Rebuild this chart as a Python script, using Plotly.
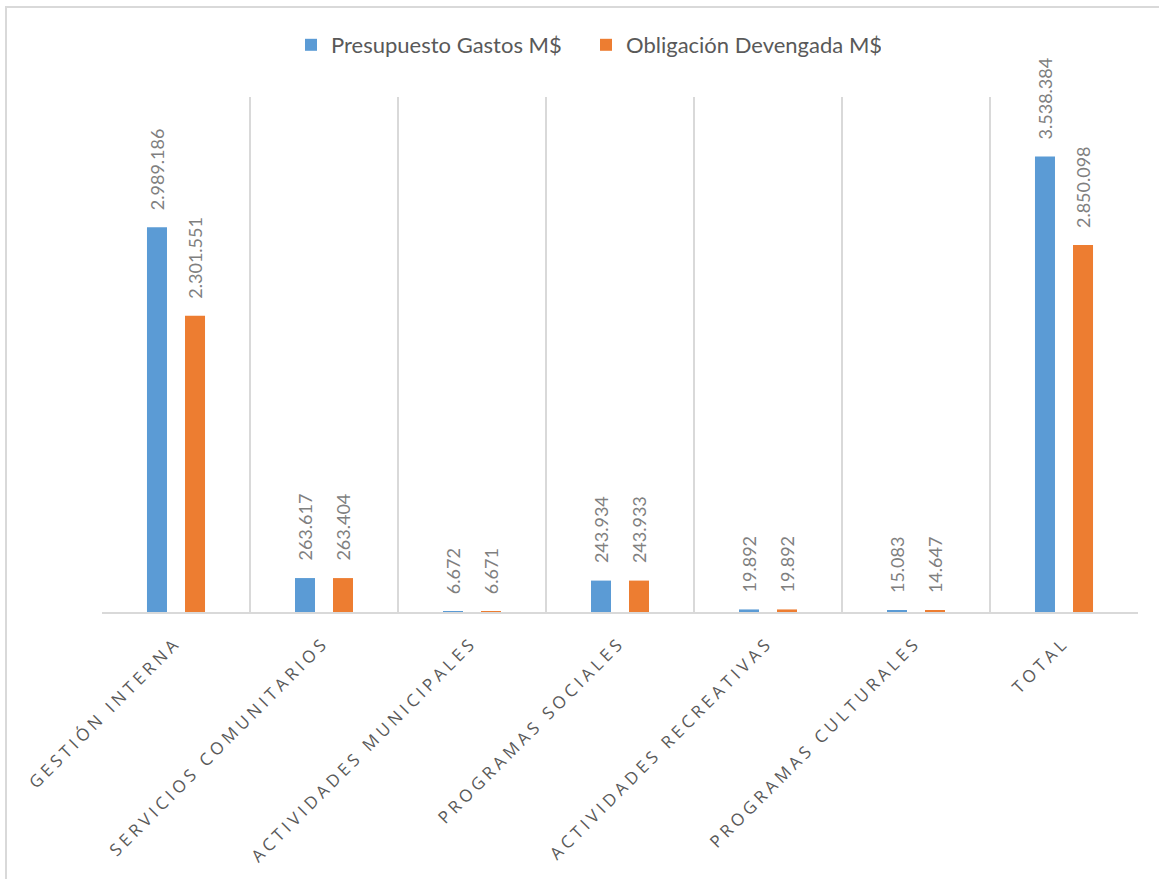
import plotly.graph_objects as go

categories = ["GESTIÓN INTERNA", "SERVICIOS COMUNITARIOS", "ACTIVIDADES MUNICIPALES",
              "PROGRAMAS SOCIALES", "ACTIVIDADES RECREATIVAS", "PROGRAMAS CULTURALES", "TOTAL"]
presupuesto = [2989186, 263617, 6672, 243934, 19892, 15083, 3538384]
obligacion = [2301551, 263404, 6671, 243933, 19892, 14647, 2850098]
series_names = ["Presupuesto Gastos M$", "Obligación Devengada M$"]
colors = ["#5B9BD5", "#ED7D31"]


def fmt(v):
    return f"{v:,}".replace(",", ".")


fig = go.Figure()
for name, vals, col in zip(series_names, [presupuesto, obligacion], colors):
    fig.add_trace(go.Bar(x=categories, y=vals, name=name, marker_color=col,
                         marker_line_width=0))

annotations = []
for vals, shift in [(presupuesto, -19), (obligacion, 19)]:
    for c, v in zip(categories, vals):
        annotations.append(dict(x=c, y=v, xref="x", yref="y", text=fmt(v), showarrow=False,
                                textangle=-90, xanchor="center", yanchor="bottom",
                                xshift=shift, yshift=15,
                                font=dict(family="Lato", size=18, color="#7F7F7F")))

W, H = 1159, 879
L, R, T, B = 102, 21, 97, 267
pw, ph = W - L - R, H - T - B

fig.update_layout(
    width=W, height=H,
    margin=dict(l=L, r=R, t=T, b=B),
    paper_bgcolor="white", plot_bgcolor="white",
    barmode="group", bargap=0.486, bargroupgap=0.474,
    font=dict(family="Lato", color="#595959"),
    legend=dict(orientation="h", x=0.5 - 34 / pw, xanchor="center", y=1 + (T - 45) / ph,
                yanchor="middle",
                font=dict(family="Lato", size=22, color="#595959"), itemwidth=30,
                entrywidth=250),
    annotations=annotations,
    shapes=[dict(type="rect", xref="paper", yref="paper",
                 x0=(6 - L) / pw, x1=1.2, y0=-1, y1=1 + (T - 7) / ph,
                 line=dict(color="#D9D9D9", width=2), layer="below")],
    xaxis=dict(type="category", tickson="boundaries", showgrid=True, gridcolor="#D9D9D9",
               gridwidth=2, showline=True, linecolor="#D9D9D9", linewidth=2,
               ticks="", tickangle=-45, ticklabelstandoff=12,
               tickfont=dict(family="Open Sans", size=17, color="#595959")),
    yaxis=dict(range=[0, 4000000], showgrid=False, showticklabels=False, zeroline=False,
               showline=False, ticks=""),
)

post = ("var s=document.createElement('style');"
        "s.textContent='body{margin:0 !important;} .xtick text{letter-spacing:4px;}';"
        "document.head.appendChild(s);")
fig.write_html("out.html", post_script=post, config={"displayModeBar": False})
